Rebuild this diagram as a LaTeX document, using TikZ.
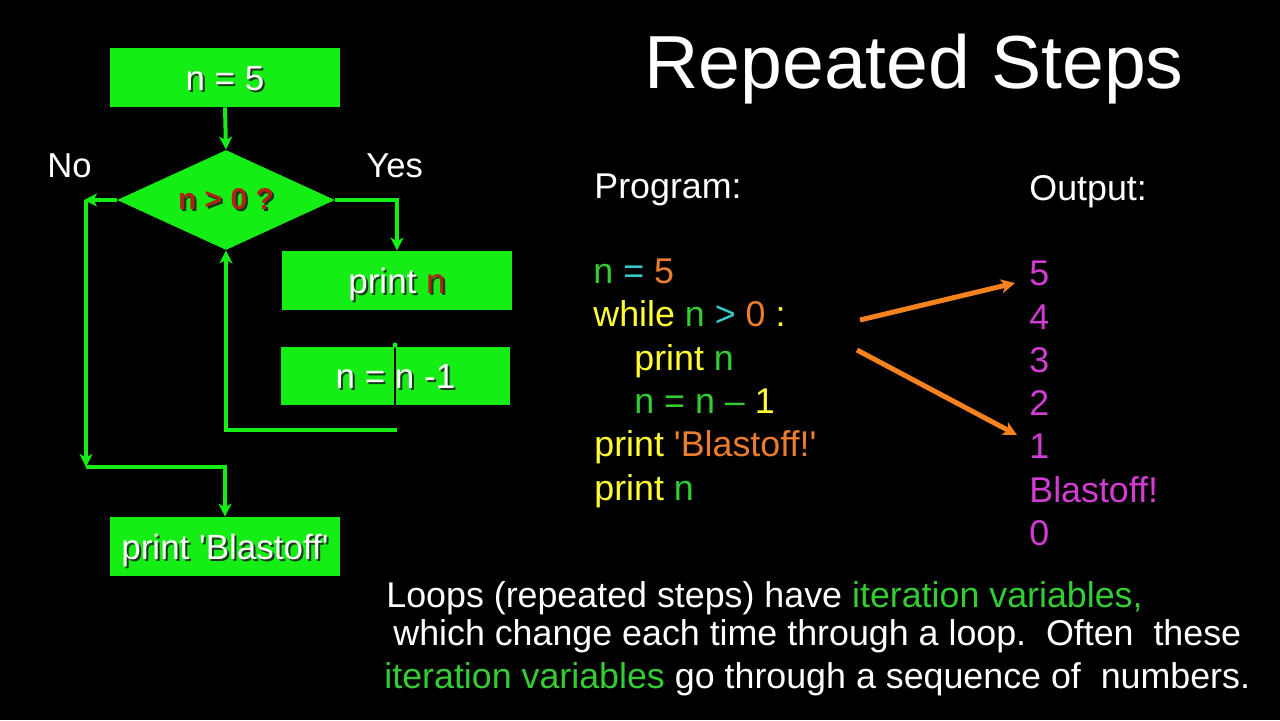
\documentclass[tikz,border=0pt]{standalone}
\usepackage{fontspec}
\setmainfont{Liberation Sans}
\usetikzlibrary{shapes.geometric,arrows.meta}
\definecolor{boxg}{RGB}{20,238,20}
\definecolor{shadowc}{RGB}{25,55,25}
\definecolor{dred}{RGB}{175,35,20}
\definecolor{cg}{RGB}{51,204,51}
\definecolor{cy}{RGB}{51,204,204}
\definecolor{co}{RGB}{235,125,45}
\definecolor{yl}{RGB}{255,255,51}
\definecolor{mg}{RGB}{210,60,210}
\definecolor{oarr}{RGB}{245,130,30}
\newcommand{\shd}[2]{\leavevmode\rlap{\kern1pt\raisebox{-1pt}{\color{shadowc}#2}}{\color{#1}#2}}
\begin{document}
\begin{tikzpicture}[x=0.5pt,y=-0.5pt,font=\fontsize{17.9}{21.5}\selectfont,
  box/.style={fill=boxg,draw=none,minimum width=115pt,minimum height=29.5pt,inner sep=0pt,text height=12.5pt,text depth=0pt,font=\fontsize{17.5}{21}\selectfont},
  dec/.style={diamond,aspect=2.18,fill=boxg,draw=none,minimum width=109pt,minimum height=50pt,inner sep=0pt},
  flow/.style={draw=boxg,line width=2pt},
  arr/.style={flow,-{Stealth[length=6.5pt,width=6.5pt,inset=1.8pt]}},
  oar/.style={draw=oarr,line width=2.5pt,-{Stealth[length=7pt,width=7pt,inset=2pt]}},
  txt/.style={anchor=base west,inner sep=0pt}]
\fill[black] (0,0) rectangle (1280,720);
\useasboundingbox (0,0) rectangle (1280,720);

% flowchart
\node[box] (n5) at (225,77.5) {\shd{white}{n = 5}};
\node[dec] (dia) at (226,200) {\bfseries\fontsize{15}{18}\selectfont\shd{dred}{n > 0 ?}};
\node[box] (pn) at (397,280.5) {\shd{white}{print }\shd{dred}{n}};
\node[box,minimum width=114.5pt,minimum height=29pt] (dc) at (395.5,376) {\shd{white}{n = n -1}};
\node[box] (bl) at (225,546.5) {\shd{white}{print \textquotesingle Blastoff\textquotesingle}};

\node[txt,white,font=\fontsize{17.3}{21}\selectfont] (no) at (47,177) {No};
\node[txt,white,font=\fontsize{17.3}{21}\selectfont] (yes) at (366,177) {Yes};

\coordinate (noL) at (84,200);
\coordinate (noT) at (86,200);
\coordinate (noB) at (86,467);
\coordinate (noR) at (225,467);
\coordinate (yc) at (397,200);
\coordinate (lp1) at (397,430);
\coordinate (lp2) at (226,430);
\coordinate (bk1) at (395,345);
\coordinate (bk2) at (395,405);

\draw[arr] (n5.south) -- (dia.north);
\draw[arr] (dia.west) -- (noL);
\draw[arr] (noT) -- (noB);
\draw[arr] (noB) -- (noR) -- (bl.north);
\draw[arr] (dia.east) -- (yc) -- (pn.north);
\draw[arr] (lp1) -- (lp2) -- (dia.south);
\draw[black,line width=1.2pt] (bk1) -- (bk2);
\fill[boxg] (bk1) circle (2.5);

% title
\node[txt,white,font=\fontsize{37.6}{45}\selectfont] (title) at (644,88) {Repeated Steps};

% program
\node[txt,white] (prog) at (594,198) {Program:};
\node[txt] (c1) at (593,283) {\color{cg}n \color{cy}= \color{co}5};
\node[txt] (c2) at (593,326) {\color{yl}while \color{cg}n \color{cy}> \color{co}0 \color{yl}:};
\node[txt] (c3) at (634,370) {\color{yl}print \color{cg}n};
\node[txt] (c4) at (634,413) {\color{cg}n = n – \color{yl}1};
\node[txt] (c5) at (594,456) {\color{yl}print \color{co}\textquotesingle Blastoff!\textquotesingle};
\node[txt] (c6) at (594,500) {\color{yl}print \color{cg}n};

% output
\node[txt,white] (outl) at (1029,200) {Output:};
\node[txt,mg] (o1) at (1029,285) {5};
\node[txt,mg] (o2) at (1029,329) {4};
\node[txt,mg] (o3) at (1029,372) {3};
\node[txt,mg] (o4) at (1029,415) {2};
\node[txt,mg] (o5) at (1029,458) {1};
\node[txt,mg] (o6) at (1029,502) {Blastoff!};
\node[txt,mg] (o7) at (1029,545) {0};

\coordinate (a1s) at (860,320);
\coordinate (a1e) at (1015,283);
\coordinate (a2s) at (857,350);
\coordinate (a2e) at (1017,435);
\draw[oar] (a1s) -- (a1e);
\draw[oar] (a2s) -- (a2e);

% bottom text
\node[txt,white] (b1) at (386,607) {Loops (repeated steps) have \color{cg}iteration variables,};
\node[txt,white] (b2) at (393,645) {which change each time through a loop.\ \ Often\ \ these};
\node[txt,white] (b3) at (384,688) {\color{cg}iteration variables \color{white}go through a sequence of\ \ numbers.};
\end{tikzpicture}
\end{document}
